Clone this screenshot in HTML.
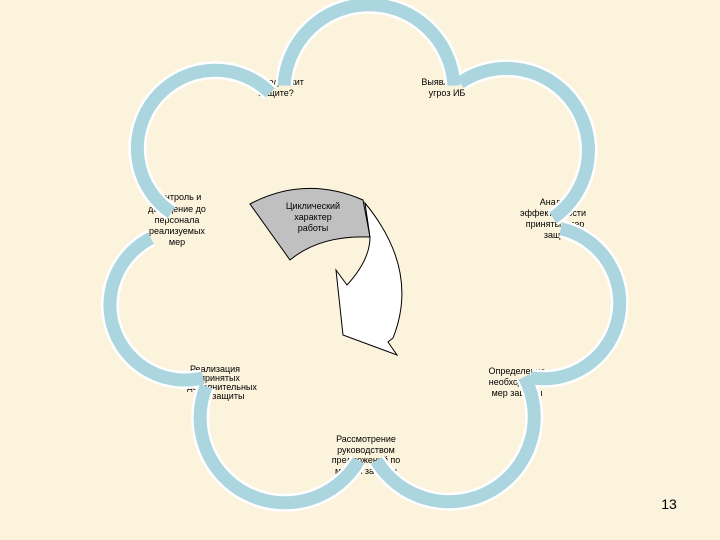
<!DOCTYPE html>
<html><head><meta charset="utf-8"><style>
html,body{margin:0;padding:0;background:#fcf3dd;}
svg{display:block}
text{font-family:"Liberation Sans",sans-serif;font-size:9px;fill:#000;text-anchor:middle}
</style></head><body>
<svg width="720" height="540" viewBox="0 0 720 540">
<rect width="720" height="540" fill="#fcf3dd"/>
<defs>
<g id="arcs">
<path d="M284.1 85.6 A85 85 0 0 1 453.9 85.6"/>
<path d="M460 82.8 A82 82 0 1 1 552.9 218"/>
<path d="M560.8 228.7 A76 76 0 0 1 530.5 377.6"/>
<path d="M524.3 376.8 A85 85 0 0 1 376.4 460.5"/>
<path d="M358.6 460.5 A85 85 0 0 1 206.2 386.2"/>
<path d="M203.1 377.8 A75 75 0 0 1 150.9 238.2"/>
<path d="M171.4 212.7 A78 78 0 1 1 270.2 92.8"/>
</g>
</defs>
<text x="275" y="85">Что подлежит</text>
<text x="276" y="96">защите?</text>
<text x="445" y="85">Выявление</text>
<text x="447" y="96">угроз ИБ</text>
<text x="178" y="200">Контроль и</text>
<text x="177" y="212">доведение до</text>
<text x="177" y="223">персонала</text>
<text x="177" y="234">реализуемых</text>
<text x="177" y="245">мер</text>
<text x="555" y="205">Анализ</text>
<text x="553" y="216">эффективности</text>
<text x="555" y="227">принятых мер</text>
<text x="560" y="238">защиты</text>
<text x="215" y="372">Реализация</text>
<text x="220" y="381">принятых</text>
<text x="222" y="390">дополнительных</text>
<text x="219" y="399">мер защиты</text>
<text x="517" y="374">Определение</text>
<text x="517" y="385">необходимых</text>
<text x="517" y="396">мер защиты</text>
<text x="366" y="442">Рассмотрение</text>
<text x="366" y="453">руководством</text>
<text x="366" y="463">предложений по</text>
<text x="366" y="474">мерам защиты</text>
<use href="#arcs" fill="none" stroke="#fff" stroke-width="18"/>
<use href="#arcs" fill="none" stroke="#acd6df" stroke-width="13"/>
<path d="M250 204 Q305 175 363 200 L370 237 Q320 235 290 260 Z" fill="#c0c0c0" stroke="#000" stroke-width="1"/>
<path d="M365 203 Q420 270 393 338 L388 342 L397 355 L343 335 L336 270 L347 285 Q370 260 370 237 Z" fill="#fff" stroke="#000" stroke-width="1"/>
<text x="313" y="209">Циклический</text>
<text x="313" y="220">характер</text>
<text x="313" y="231">работы</text>
<text x="669" y="509" style="font-size:14px">13</text>
</svg>
</body></html>
